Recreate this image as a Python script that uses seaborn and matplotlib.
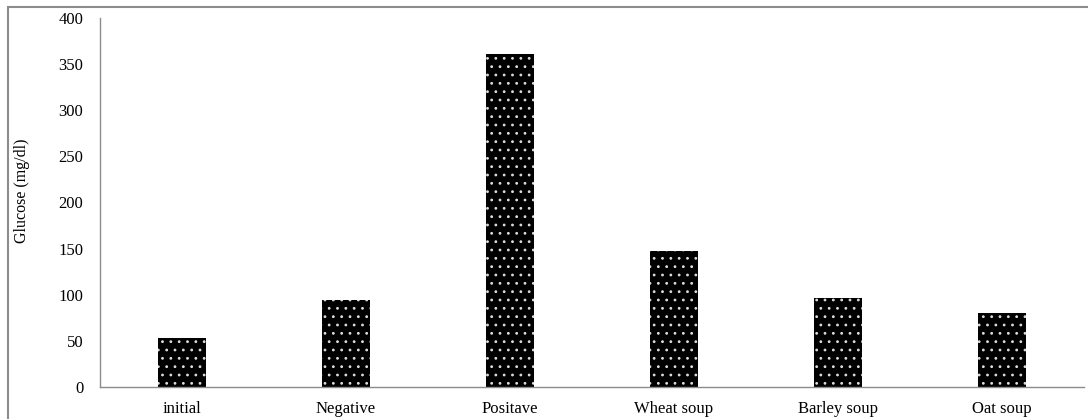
import matplotlib
matplotlib.use("Agg")
import matplotlib.pyplot as plt
import seaborn as sns
import pandas as pd
from matplotlib.patches import Rectangle

categories = ["initial", "Negative", "Positave", "Wheat soup", "Barley soup", "Oat soup"]
glucose = [53, 94, 361, 147, 97, 80]
yticks = [0, 50, 100, 150, 200, 250, 300, 350, 400]

sns.set_theme(style="white")
plt.rcParams['font.family'] = ['Liberation Serif', 'DejaVu Serif']
plt.rcParams['hatch.linewidth'] = 0.8

df = pd.DataFrame({"cat": categories, "val": glucose})

fig = plt.figure(figsize=(10.88, 4.19), dpi=100)
ax = fig.add_axes([100/1088, 1 - 387/419, 984/1088, 369/419])

sns.barplot(data=df, x="cat", y="val", ax=ax, color="black", width=0.29,
            saturation=1)
for p in ax.patches:
    p.set_facecolor("black")
    p.set_edgecolor("#dddddd")
    p.set_linewidth(0)
    p.set_hatch("..")

ax.set_xlim(-0.5, 5.5)
ax.set_ylim(0, 400)
ax.set_yticks(yticks)
ax.set_yticklabels([str(t) for t in yticks], fontsize=12, color="black")
ax.tick_params(axis='x', labelsize=12, length=0, pad=10, labelcolor="black")
ax.tick_params(axis='y', length=0, pad=12)
ax.set_xlabel("")
ax.set_ylabel("Glucose (mg/dl)", fontsize=11.5, color="black")
ax.yaxis.set_label_coords(-70/984, (387 - 191)/369)
for s in ["top", "right"]:
    ax.spines[s].set_visible(False)
for s in ["left", "bottom"]:
    ax.spines[s].set_color("#8c8c8c")
    ax.spines[s].set_linewidth(1.0)

fig.patches.append(Rectangle((8/1088, -0.1), 1.2, (419 - 7)/419 + 0.1,
                             transform=fig.transFigure, fill=False,
                             edgecolor="#8c8c8c", linewidth=1.5))

fig.savefig("out.png", dpi=100)
